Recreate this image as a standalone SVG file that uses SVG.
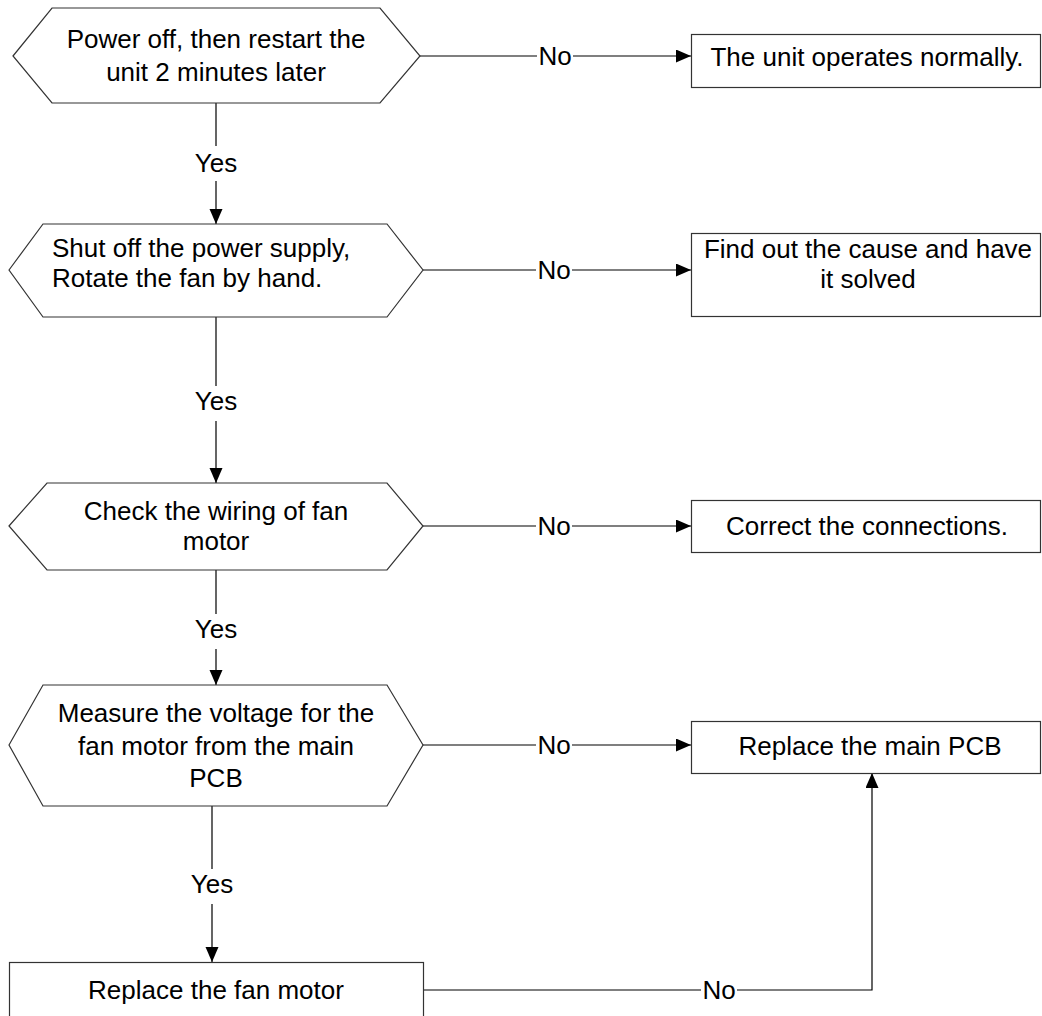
<svg xmlns="http://www.w3.org/2000/svg" width="1042" height="1016" viewBox="0 0 1042 1016">
<style>
text{font-family:"Liberation Sans",Arial,sans-serif;font-size:26px;fill:#000}
.c{text-anchor:middle}
.n{fill:#fff;stroke:#333;stroke-width:1.2}
.l{fill:none;stroke:#000;stroke-width:1.2}
</style>
<defs>
<marker id="a" markerUnits="userSpaceOnUse" markerWidth="16" markerHeight="14" refX="15" refY="6.5" orient="auto">
<path d="M0,0 L15,6.5 L0,13 Z" fill="#000"/>
</marker>
</defs>
<rect width="1042" height="1016" fill="#fff"/>
<g id="connectors">
<path class="l" d="M216,103 V146 M216,181 V224" marker-end="url(#a)"/>
<text class="c" x="216" y="172">Yes</text>
<path class="l" d="M216,317 V386 M216,421 V483" marker-end="url(#a)"/>
<text class="c" x="216" y="410">Yes</text>
<path class="l" d="M216,570 V614 M216,649 V685" marker-end="url(#a)"/>
<text class="c" x="216" y="638">Yes</text>
<path class="l" d="M212,806 V869 M212,904 V962" marker-end="url(#a)"/>
<text class="c" x="212" y="893">Yes</text>
<path class="l" d="M420,56 H537 M573,56 H691" marker-end="url(#a)"/>
<text class="c" x="555" y="65">No</text>
<path class="l" d="M423,270 H536 M572,270 H691" marker-end="url(#a)"/>
<text class="c" x="554" y="279">No</text>
<path class="l" d="M423,526 H536 M572,526 H691" marker-end="url(#a)"/>
<text class="c" x="554" y="535">No</text>
<path class="l" d="M423,745 H536 M572,745 H691" marker-end="url(#a)"/>
<text class="c" x="554" y="754">No</text>
<path class="l" d="M423,990 H701 M737,990 H872 V773" marker-end="url(#a)"/>
<text class="c" x="719" y="999">No</text>
</g>
<g id="d1">
<polygon class="n" points="13,56 52,8 380,8 420,56 380,103 52,103"/>
<text class="c" x="216" y="48">Power off, then restart the</text>
<text class="c" x="216" y="81">unit 2 minutes later</text>
</g>
<g id="r1">
<rect class="n" x="691.5" y="34.5" width="349" height="53"/>
<text class="c" x="867" y="66">The unit operates normally.</text>
</g>
<g id="d2">
<polygon class="n" points="9,270 43,224 387,224 423,270 387,317 43,317"/>
<text x="52" y="257">Shut off the power supply,</text>
<text x="52" y="287">Rotate the fan by hand.</text>
</g>
<g id="r2">
<rect class="n" x="691.5" y="233.5" width="349" height="83"/>
<text class="c" x="868" y="258">Find out the cause and have</text>
<text class="c" x="868" y="288">it solved</text>
</g>
<g id="d3">
<polygon class="n" points="9,526 47,483 387,483 423,526 387,570 47,570"/>
<text class="c" x="216" y="520">Check the wiring of fan</text>
<text class="c" x="216" y="550">motor</text>
</g>
<g id="r3">
<rect class="n" x="691.5" y="500.5" width="349" height="52"/>
<text class="c" x="867" y="535">Correct the connections.</text>
</g>
<g id="d4">
<polygon class="n" points="9,745 43,685 387,685 423,745 387,806 43,806"/>
<text class="c" x="216" y="722">Measure the voltage for the</text>
<text class="c" x="216" y="755">fan motor from the main</text>
<text class="c" x="216" y="787">PCB</text>
</g>
<g id="r4">
<rect class="n" x="691.5" y="721.5" width="349" height="52"/>
<text class="c" x="870" y="755">Replace the main PCB</text>
</g>
<g id="r5">
<rect class="n" x="9.5" y="962.5" width="414" height="60"/>
<text class="c" x="216" y="999">Replace the fan motor</text>
</g>
</svg>
